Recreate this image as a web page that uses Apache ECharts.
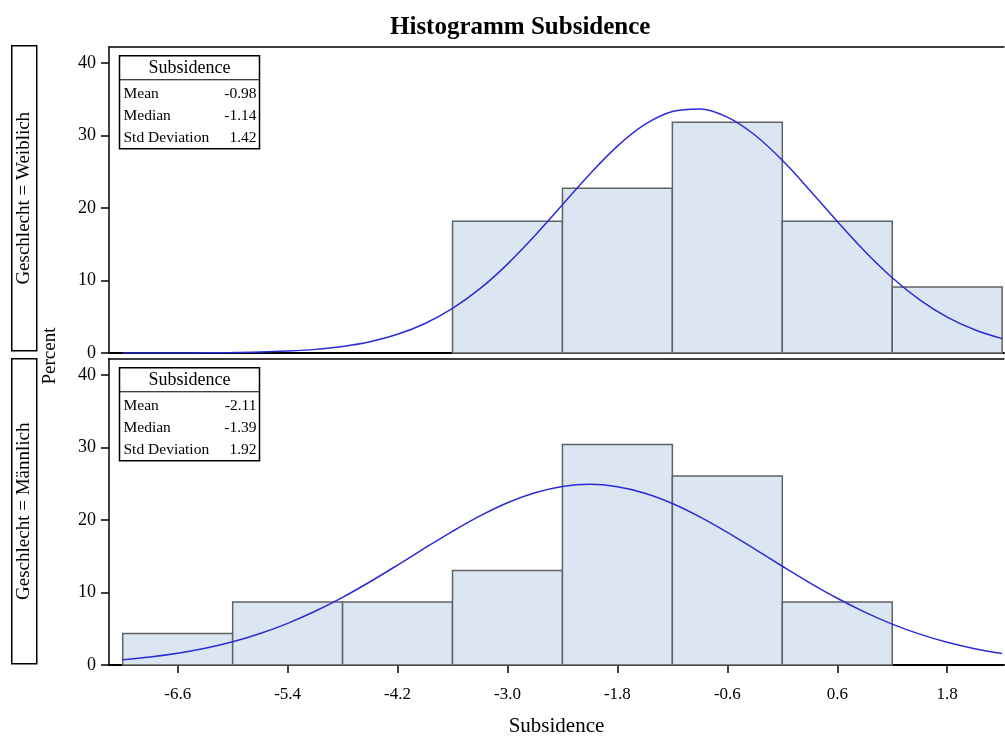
<!DOCTYPE html>
<html>
<head>
<meta charset="utf-8">
<script src="https://cdn.jsdelivr.net/npm/echarts@6/dist/echarts.min.js"></script>
<style>
  html, body { margin: 0; padding: 0; background: #fff; }
  #chart { width: 1005px; height: 738px; }
</style>
</head>
<body>
<div id="chart"></div>
<script>
// bin edges (Subsidence) and percent per bin
var binEdges = [-7.2, -6.0, -4.8, -3.6, -2.4, -1.2, 0.0, 1.2, 2.4];
var pctWeiblich = [0, 0, 0, 18.18, 22.73, 31.82, 18.18, 9.09];
var pctMaennlich = [4.35, 8.70, 8.70, 13.04, 30.43, 26.09, 8.70, 0];

// normal curve
var curveX = [-7.2, -6.9, -6.6, -6.3, -6.0, -5.7, -5.4, -5.1, -4.8, -4.5, -4.2, -3.9, -3.6, -3.3, -3.0, -2.7, -2.4,
  -2.1, -1.8, -1.5, -1.2, -0.9, -0.6, -0.3, 0.0, 0.3, 0.6, 0.9, 1.2, 1.5, 1.8, 2.1, 2.4];
var curveWeiblich = [0.00, 0.01, 0.01, 0.03, 0.07, 0.13, 0.27, 0.50, 0.91, 1.56, 2.58, 4.07, 6.15, 8.87, 12.26, 16.19, 20.45,
  24.70, 28.53, 31.52, 33.31, 33.66, 32.53, 30.06, 26.57, 22.46, 18.15, 14.04, 10.38, 7.34, 4.96, 3.21, 1.98];
var curveMaennlich = [0.74, 1.11, 1.62, 2.31, 3.20, 4.34, 5.75, 7.42, 9.34, 11.49, 13.79, 16.15, 18.45, 20.58, 22.40, 23.78, 24.65,
  24.93, 24.61, 23.71, 22.29, 20.44, 18.30, 15.99, 13.63, 11.34, 9.21, 7.30, 5.64, 4.26, 3.13, 2.25, 1.58];

var xTicks = [-6.6, -5.4, -4.2, -3.0, -1.8, -0.6, 0.6, 1.8];
var yTicks = [0, 10, 20, 30, 40];

var statsWeiblich = [['Mean', '-0.98'], ['Median', '-1.14'], ['Std Deviation', '1.42']];
var statsMaennlich = [['Mean', '-2.11'], ['Median', '-1.39'], ['Std Deviation', '1.92']];

var FONT = '"Liberation Serif", "Times New Roman", serif';

function histData(pct) {
  var out = [];
  for (var i = 0; i < pct.length; i++) {
    if (pct[i] > 0) out.push([binEdges[i], binEdges[i + 1], pct[i]]);
  }
  return out;
}
function curveData(ys) {
  return curveX.map(function (x, i) { return [x, ys[i]]; });
}
function renderBar(params, api) {
  var p0 = api.coord([api.value(0), api.value(2)]);
  var p1 = api.coord([api.value(1), 0]);
  return {
    type: 'rect',
    shape: { x: p0[0], y: p0[1], width: p1[0] - p0[0], height: p1[1] - p0[1] },
    style: { fill: '#dce6f2', stroke: '#5f6266', lineWidth: 1.5 }
  };
}

function statsBox(top, stats) {
  var kids = [
    { type: 'rect', shape: { x: 0, y: 0, width: 140, height: 93 },
      style: { fill: '#fff', stroke: '#000', lineWidth: 1.5 } },
    { type: 'line', shape: { x1: 0, y1: 24, x2: 140, y2: 24 }, style: { stroke: '#000', lineWidth: 1.2 } },
    { type: 'text', x: 70, y: 13, style: { text: 'Subsidence', font: '18px ' + FONT, fill: '#000', align: 'center', verticalAlign: 'middle' } }
  ];
  stats.forEach(function (r, i) {
    kids.push({ type: 'text', x: 4, y: 38 + i * 22, style: { text: r[0], font: '15.5px ' + FONT, fill: '#000', verticalAlign: 'middle' } });
    kids.push({ type: 'text', x: 137, y: 38 + i * 22, style: { text: r[1], font: '15.5px ' + FONT, fill: '#000', align: 'right', verticalAlign: 'middle' } });
  });
  return { type: 'group', left: 117, top: top, children: kids };
}

function stripBox(top, label) {
  return {
    type: 'group', left: 11, top: top,
    children: [
      { type: 'rect', shape: { x: 0, y: 0, width: 25, height: 305 }, style: { fill: '#fff', stroke: '#000', lineWidth: 1.5 } },
      { type: 'text', x: 12.5, y: 152.5, rotation: Math.PI / 2,
        style: { text: label, font: '19px ' + FONT, fill: '#000', align: 'center', verticalAlign: 'middle' } }
    ]
  };
}

var xBase = {
  type: 'value', min: -7.35, max: 2.42,
  splitLine: { show: false },
  axisLine: { onZero: false, lineStyle: { color: '#000', width: 2 } }
};
var yBase = {
  type: 'value', min: 0, interval: 10,
  splitLine: { show: false },
  axisLine: { show: true, onZero: false, lineStyle: { color: '#000', width: 1.5 } },
  axisTick: { show: true, length: 8, customValues: yTicks, lineStyle: { color: '#000', width: 1.5 } },
  axisLabel: { customValues: yTicks, color: '#000', fontFamily: FONT, fontSize: 18, margin: 13 }
};

var option = {
  backgroundColor: '#fff',
  animation: false,
  title: {
    text: 'Histogramm Subsidence', left: 385, top: 10,
    textStyle: { fontFamily: FONT, fontSize: 25, fontWeight: 'bold', color: '#000' }
  },
  grid: [
    { left: 109, right: 1, top: 47, height: 306 },
    { left: 109, right: 1, top: 358.5, height: 306.5 }
  ],
  xAxis: [
    Object.assign({}, xBase, { gridIndex: 0, axisTick: { show: false }, axisLabel: { show: false } }),
    Object.assign({}, xBase, {
      gridIndex: 1,
      name: 'Subsidence', nameLocation: 'middle', nameGap: 51,
      nameTextStyle: { fontFamily: FONT, fontSize: 21, color: '#000' },
      axisTick: { show: true, length: 8, customValues: xTicks, lineStyle: { color: '#000', width: 1.5 } },
      axisLabel: { customValues: xTicks, color: '#000', fontFamily: FONT, fontSize: 17, margin: 21,
        formatter: function (v) { return v.toFixed(1); } }
    }),
    Object.assign({}, xBase, { gridIndex: 0, position: 'top', axisTick: { show: false }, axisLabel: { show: false },
      axisLine: { onZero: false, lineStyle: { color: '#000', width: 1.5 } } }),
    Object.assign({}, xBase, { gridIndex: 1, position: 'top', axisTick: { show: false }, axisLabel: { show: false },
      axisLine: { onZero: false, lineStyle: { color: '#000', width: 1.5 } } })
  ],
  yAxis: [
    Object.assign({}, yBase, { gridIndex: 0, max: 42.2 }),
    Object.assign({}, yBase, { gridIndex: 1, max: 42.3 })
  ],
  graphic: [
    stripBox(45, 'Geschlecht = Weiblich'),
    stripBox(358, 'Geschlecht = Männlich'),
    { type: 'text', x: 50, y: 356, rotation: Math.PI / 2,
      style: { text: 'Percent', font: '19px ' + FONT, fill: '#000', align: 'center', verticalAlign: 'middle' } },
    statsBox(55, statsWeiblich),
    statsBox(367, statsMaennlich)
  ],
  series: [
    { type: 'custom', xAxisIndex: 0, yAxisIndex: 0, renderItem: renderBar, encode: { x: [0, 1], y: 2 }, data: histData(pctWeiblich), z: 2 },
    { type: 'line', xAxisIndex: 0, yAxisIndex: 0, data: curveData(curveWeiblich), smooth: 0.35, showSymbol: false,
      lineStyle: { color: '#2b2bd9', width: 1.5 }, z: 3 },
    { type: 'custom', xAxisIndex: 1, yAxisIndex: 1, renderItem: renderBar, encode: { x: [0, 1], y: 2 }, data: histData(pctMaennlich), z: 2 },
    { type: 'line', xAxisIndex: 1, yAxisIndex: 1, data: curveData(curveMaennlich), smooth: 0.35, showSymbol: false,
      lineStyle: { color: '#2b2bd9', width: 1.5 }, z: 3 }
  ]
};

var myChart = echarts.init(document.getElementById('chart'));
myChart.setOption(option, true);
</script>
</body>
</html>
